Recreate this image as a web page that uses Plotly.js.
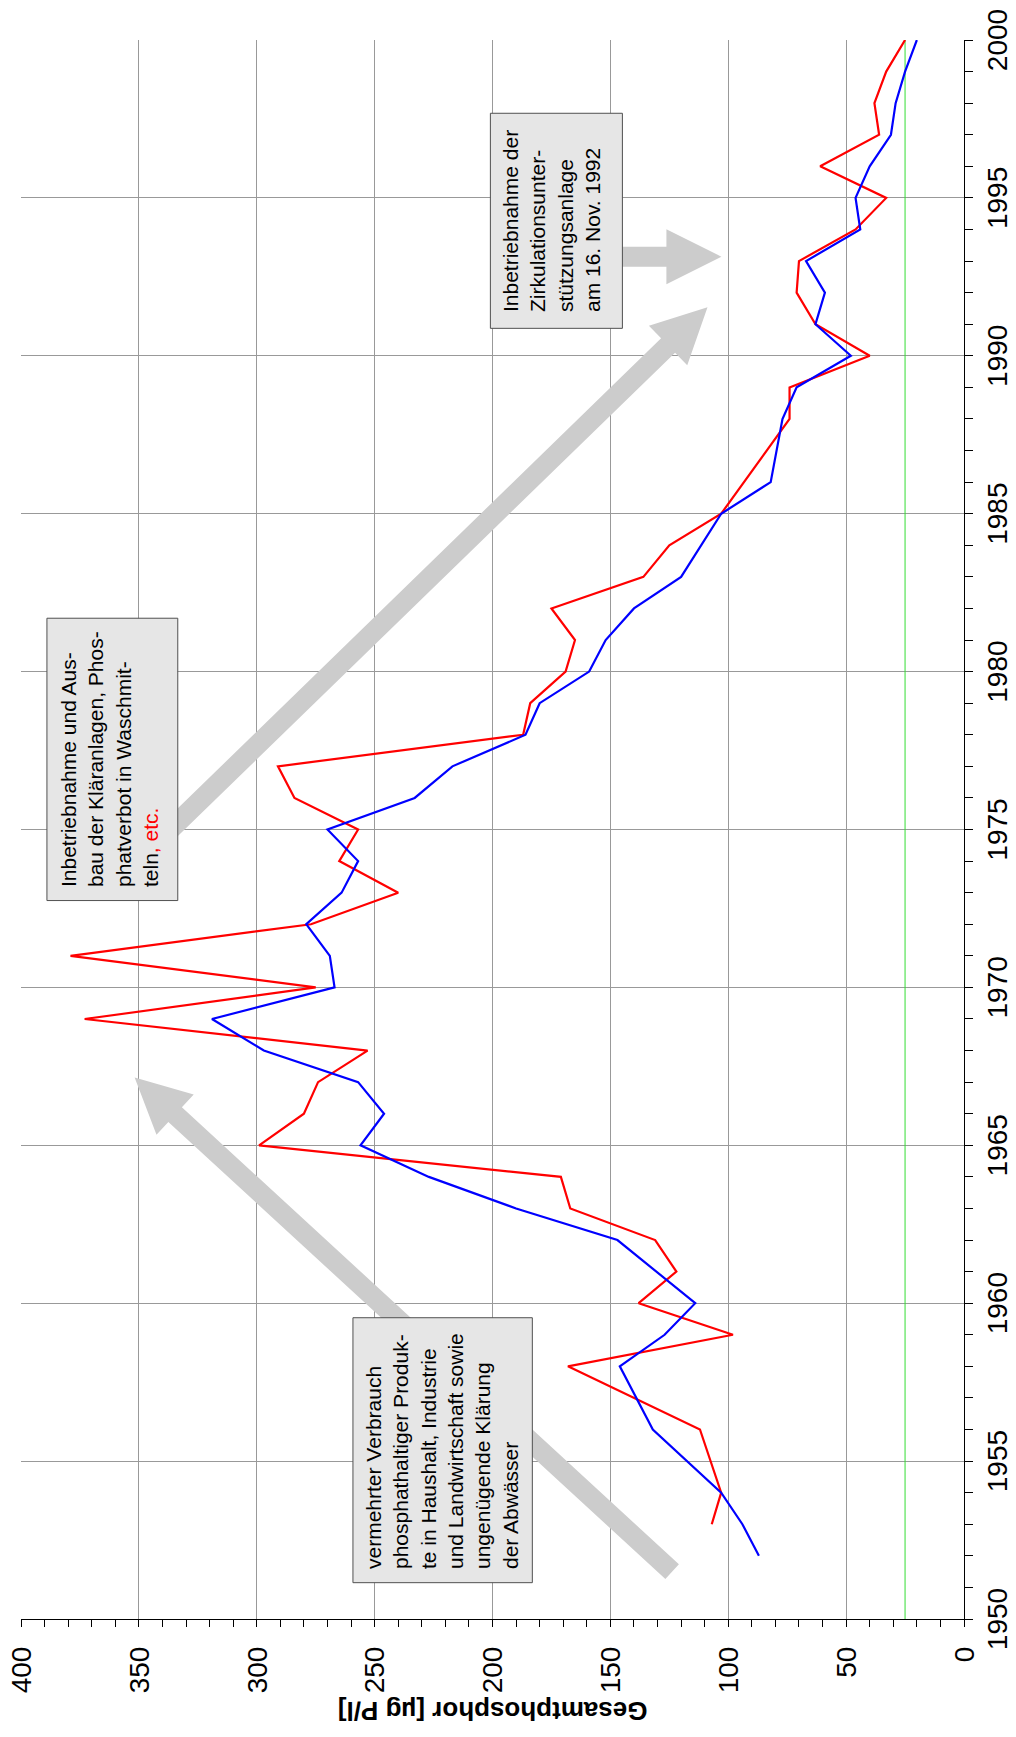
<!DOCTYPE html>
<html>
<head>
<meta charset="utf-8">
<script src="https://cdn.plot.ly/plotly-3.0.1.min.js"></script>
<style>
html,body{margin:0;padding:0;width:1016px;height:1737px;overflow:hidden;background:#fff;}
#chart{position:absolute;left:0;top:0;width:1737px;height:1016px;transform-origin:0 0;transform:translateY(1737px) rotate(-90deg);}
</style>
</head>
<body>
<div id="chart"></div>
<script>
// ---- data ----
const redYears  = [1953,1954,1956,1958,1959,1960,1961,1962,1963,1964,1965,1966,1967,1968,1969,1970,1971,1972,1973,1974,1975,1976,1977,1978,1979,1980,1981,1982,1983,1984,1985,1988,1989,1990,1991,1992,1993,1994,1995,1996,1997,1998,1999,2000];
const redValues = [107,103,112,168,98,138,122,131,167,171,299,280,274,253,373,275,379,277,240,265,257,284,291,187,184,169,165,175,136,125,103,74,74,40,63,71,70,46,33,61,36,38,33,25];
const blueYears  = [1952,1953,1954,1956,1958,1959,1960,1962,1963,1964,1965,1966,1967,1968,1969,1970,1971,1972,1973,1974,1975,1976,1977,1978,1979,1980,1981,1982,1983,1985,1986,1988,1989,1990,1991,1992,1993,1994,1995,1996,1997,1998,1999,2000];
const blueValues = [87,94,103,132,146,127,114,147,190,227,256,246,257,297,319,267,269,279,264,257,270,233,217,186,180,159,152,140,120,103,82,77,71,48,63,59,67,44,46,40,31,29,25,20];
const targetValue = 25;
const yearRange = [1950, 2000];
const valueRange = [0, 400];
const valueTitle = 'Gesamtphosphor [µg P/l]';

const noteTexts = [
  'vermehrter Verbrauch<br>phosphathaltiger Produk-<br>te in Haushalt, Industrie<br>und Landwirtschaft sowie<br>ungenügende Klärung<br>der Abwässer',
  'Inbetriebnahme und Aus-<br>bau der Kläranlagen, Phos-<br>phatverbot in Waschmit-<br>teln<span style="color:#ff0000">, etc.</span>',
  'Inbetriebnahme der<br>Zirkulationsunter-<br>stützungsanlage<br>am 16. Nov. 1992'
];

// ---- layout geometry ----
const W = 1737, H = 1016;
const M = {l:118, r:40, t:21, b:52, pad:0};
const pw = W - M.l - M.r, ph = H - M.t - M.b;
function toPx(yr, v){ return [(yr - yearRange[0]) / (yearRange[1]-yearRange[0]) * pw, (valueRange[1] - v) / (valueRange[1]-valueRange[0]) * ph]; }
function toData(px, py){ return [yearRange[0] + px / pw * (yearRange[1]-yearRange[0]), valueRange[1] - py / ph * (valueRange[1]-valueRange[0])]; }

const SHAFT = 10, HEAD_W = 27.5, HEAD_L = 55;
function arrowPath(t, h){
  const a = toPx(t[0], t[1]), b = toPx(h[0], h[1]);
  const dx = b[0]-a[0], dy = b[1]-a[1], L = Math.hypot(dx, dy);
  const ux = dx/L, uy = dy/L, nx = -uy, ny = ux;
  const bs = [b[0]-ux*HEAD_L, b[1]-uy*HEAD_L];
  const pts = [
    [a[0]+nx*SHAFT, a[1]+ny*SHAFT],
    [bs[0]+nx*SHAFT, bs[1]+ny*SHAFT],
    [bs[0]+nx*HEAD_W, bs[1]+ny*HEAD_W],
    b,
    [bs[0]-nx*HEAD_W, bs[1]-ny*HEAD_W],
    [bs[0]-nx*SHAFT, bs[1]-ny*SHAFT],
    [a[0]-nx*SHAFT, a[1]-ny*SHAFT]
  ];
  return 'M' + pts.map(p => toData(p[0], p[1]).join(',')).join('L') + 'Z';
}

const arrows = [
  {tail:[1951.50, 123.8], head:[1967.15, 351.8]},
  {tail:[1974.67, 341.2], head:[1991.54, 108.8]},
  {tail:[1993.14, 154.5], head:[1993.14, 102.9]}
];
const boxes = [
  {x0:1951.15, x1:1959.54, y0:183.1, y1:259.2, tx:1951.55, ty:221.5},
  {x0:1972.75, x1:1981.69, y0:333.5, y1:389.0, tx:1973.15, ty:362.4},
  {x0:1990.87, x1:1997.68, y0:144.9, y1:200.9, tx:1991.35, ty:175.0}
];

const shapes = [];
arrows.forEach(a => shapes.push({type:'path', xref:'x', yref:'y', path:arrowPath(a.tail, a.head), fillcolor:'#cccccc', line:{width:0}, layer:'above'}));
boxes.forEach(b => shapes.push({type:'rect', xref:'x', yref:'y', x0:b.x0, x1:b.x1, y0:b.y0, y1:b.y1, fillcolor:'#e6e6e6', line:{color:'#505050', width:1}, layer:'above'}));

const annotations = boxes.map((b, i) => ({
  xref:'x', yref:'y', x:b.tx, y:b.ty, xanchor:'left', yanchor:'middle', align:'left',
  text:noteTexts[i], showarrow:false, borderpad:0,
  font:{family:'Liberation Sans, Arial, sans-serif', size:21, color:'#000'}
}));
annotations.push({
  xref:'paper', yref:'paper', x:(26 - M.l)/pw, y:0.5, xanchor:'center', yanchor:'middle',
  text:'<b>' + valueTitle + '</b>', textangle:-90, showarrow:false,
  font:{family:'Liberation Sans, Arial, sans-serif', size:26, color:'#000'}
});

const data = [
  {x:yearRange, y:[targetValue, targetValue], mode:'lines', line:{color:'#33dd33', width:1}, hoverinfo:'skip'},
  {x:redYears, y:redValues, mode:'lines', line:{color:'#ff0000', width:2.2}},
  {x:blueYears, y:blueValues, mode:'lines', line:{color:'#0000ff', width:2.2}}
];

const tickFont = {family:'Liberation Sans, Arial, sans-serif', size:28, color:'#000'};
const layout = {
  width:W, height:H, margin:M, showlegend:false,
  paper_bgcolor:'#ffffff', plot_bgcolor:'#ffffff',
  xaxis:{range:yearRange, tick0:1950, dtick:5, ticks:'outside', ticklen:8, tickwidth:1, tickcolor:'#000',
    showline:true, linecolor:'#000', linewidth:1, showgrid:true, gridcolor:'#999999', gridwidth:1, zeroline:false,
    tickfont:tickFont, ticklabelstandoff:0,
    minor:{dtick:1, tick0:1950, ticks:'outside', ticklen:8, tickcolor:'#000', showgrid:false}},
  yaxis:{range:valueRange, tick0:0, dtick:50, ticks:'outside', ticklen:7, tickwidth:1, tickcolor:'#000',
    showline:true, linecolor:'#000', linewidth:1, showgrid:true, gridcolor:'#999999', gridwidth:1, zeroline:false,
    tickfont:tickFont, ticklabelstandoff:14,
    minor:{dtick:10, tick0:0, ticks:'outside', ticklen:7, tickcolor:'#000', showgrid:false}},
  shapes:shapes,
  annotations:annotations
};
Plotly.newPlot('chart', data, layout, {staticPlot:true, displayModeBar:false});
</script>
</body>
</html>
